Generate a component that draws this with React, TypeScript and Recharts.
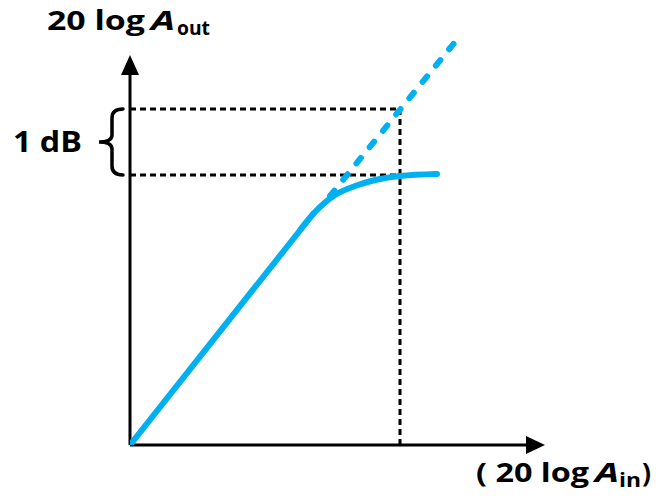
import React from "react";
import {
  LineChart,
  Line,
  XAxis,
  YAxis,
  ReferenceLine,
  ReferenceDot,
  ReferenceArea,
  Customized,
} from "recharts";

// schematic units: 1 unit = 10px on both axes
const xMax = 41.5; // x-axis arrow tip
const yMax = 39; // y-axis arrow tip

// real output: linear region
const linearX = [0, 18.3];
const linearY = [0, 23.1];

// real output: compression knee
const kneeX = [17, 18.5, 20.5, 22.5, 25, 27, 30.7];
const kneeY = [21.5, 23.3, 25.0, 25.9, 26.6, 26.9, 27.1];

// ideal linear extension (dashed)
const idealX = [20, 32.5];
const idealY = [24.9, 40.3];

// 1 dB compression guides
const levelLow = 27.0;
const levelHigh = 33.6;
const inputMark = 27;

const BLUE = "#00B0F0";
const FONT = "'Open Sans', 'Liberation Sans', sans-serif";

const toPoints = (xs: number[], ys: number[]) => xs.map((x, i) => ({ x, y: ys[i] }));
const linearData = toPoints(linearX, linearY);
const kneeData = toPoints(kneeX, kneeY);
const idealData = toPoints(idealX, idealY);

const Brace = (props: any) => {
  const { x, y, height } = props;
  const top = y;
  const bot = y + height;
  const mid = (top + bot) / 2;
  const xr = x - 7;
  const xv = x - 18;
  const xc = x - 31;
  const d = `M${xr} ${top} Q${xv} ${top} ${xv} ${top + 9} L${xv} ${mid - 7} Q${xv} ${mid} ${xc} ${mid} Q${xv} ${mid} ${xv} ${mid + 7} L${xv} ${bot - 9} Q${xv} ${bot} ${xr} ${bot}`;
  return <path d={d} fill="none" stroke="#000" strokeWidth={3.5} strokeLinecap="round" />;
};

const Labels = () => (
  <g fontFamily={FONT} fontWeight={700} fill="#000">
    <text x={47} y={30} fontSize={26} textLength={98} lengthAdjust="spacingAndGlyphs">20 log</text>
    <text x={151} y={30} fontSize={26} fontStyle="italic" textLength={24} lengthAdjust="spacingAndGlyphs">A</text>
    <text x={177} y={35} fontSize={19} textLength={33} lengthAdjust="spacingAndGlyphs">out</text>

    <text x={13} y={152} fontSize={28} textLength={69} lengthAdjust="spacingAndGlyphs">1 dB</text>

    <text x={476} y={482} fontSize={27} textLength={113} lengthAdjust="spacingAndGlyphs">( 20 log</text>
    <text x={595} y={482} fontSize={27} fontStyle="italic" textLength={24} lengthAdjust="spacingAndGlyphs">A</text>
    <text x={619} y={487} fontSize={19} textLength={22} lengthAdjust="spacingAndGlyphs">in</text>
    <text x={642} y={482} fontSize={27} textLength={9} lengthAdjust="spacingAndGlyphs">)</text>
  </g>
);

export default function App() {
  return (
    <div style={{ position: "absolute", left: 0, top: 0, width: 656, height: 499, background: "#fff" }}>
      <LineChart width={656} height={499} margin={{ top: 40, left: 130, right: 111, bottom: 54 }}>
        <XAxis type="number" dataKey="x" domain={[0, xMax]} hide height={0} allowDataOverflow />
        <YAxis type="number" dataKey="y" domain={[0, 40.5]} hide width={0} allowDataOverflow />

        {/* dotted guides */}
        <ReferenceLine segment={[{ x: 0, y: levelHigh }, { x: inputMark, y: levelHigh }]} stroke="#000" strokeWidth={3} strokeDasharray="6 4" />
        <ReferenceLine segment={[{ x: 0, y: levelLow }, { x: inputMark, y: levelLow }]} stroke="#000" strokeWidth={3} strokeDasharray="6 4" />
        <ReferenceLine segment={[{ x: inputMark, y: 0 }, { x: inputMark, y: levelHigh }]} stroke="#000" strokeWidth={3} strokeDasharray="6 4" />

        {/* axes */}
        <ReferenceLine segment={[{ x: 0, y: 0 }, { x: xMax - 1.2, y: 0 }]} stroke="#000" strokeWidth={3} />
        <ReferenceLine segment={[{ x: 0, y: 0 }, { x: 0, y: yMax - 1.2 }]} stroke="#000" strokeWidth={3} />
        <ReferenceDot
          x={0}
          y={yMax}
          shape={(p: any) => <path d={`M${p.cx} ${p.cy} L${p.cx - 9} ${p.cy + 20} L${p.cx + 9} ${p.cy + 20} Z`} fill="#000" />}
        />
        <ReferenceDot
          x={xMax}
          y={0}
          shape={(p: any) => <path d={`M${p.cx} ${p.cy} L${p.cx - 19} ${p.cy - 9} L${p.cx - 19} ${p.cy + 9} Z`} fill="#000" />}
        />

        <ReferenceArea x1={0} x2={1} y1={levelLow} y2={levelHigh} shape={Brace} />

        <Line
          data={idealData}
          dataKey="y"
          type="linear"
          stroke={BLUE}
          strokeWidth={6}
          strokeDasharray="7 14"
          strokeLinecap="round"
          dot={false}
          activeDot={false}
          isAnimationActive={false}
        />
        <Line
          data={linearData}
          dataKey="y"
          type="linear"
          stroke={BLUE}
          strokeWidth={6}
          strokeLinecap="round"
          dot={false}
          activeDot={false}
          isAnimationActive={false}
        />
        <Line
          data={kneeData}
          dataKey="y"
          type="monotone"
          stroke={BLUE}
          strokeWidth={6}
          strokeLinecap="round"
          dot={false}
          activeDot={false}
          isAnimationActive={false}
        />

        <Customized component={Labels} />
      </LineChart>
    </div>
  );
}
